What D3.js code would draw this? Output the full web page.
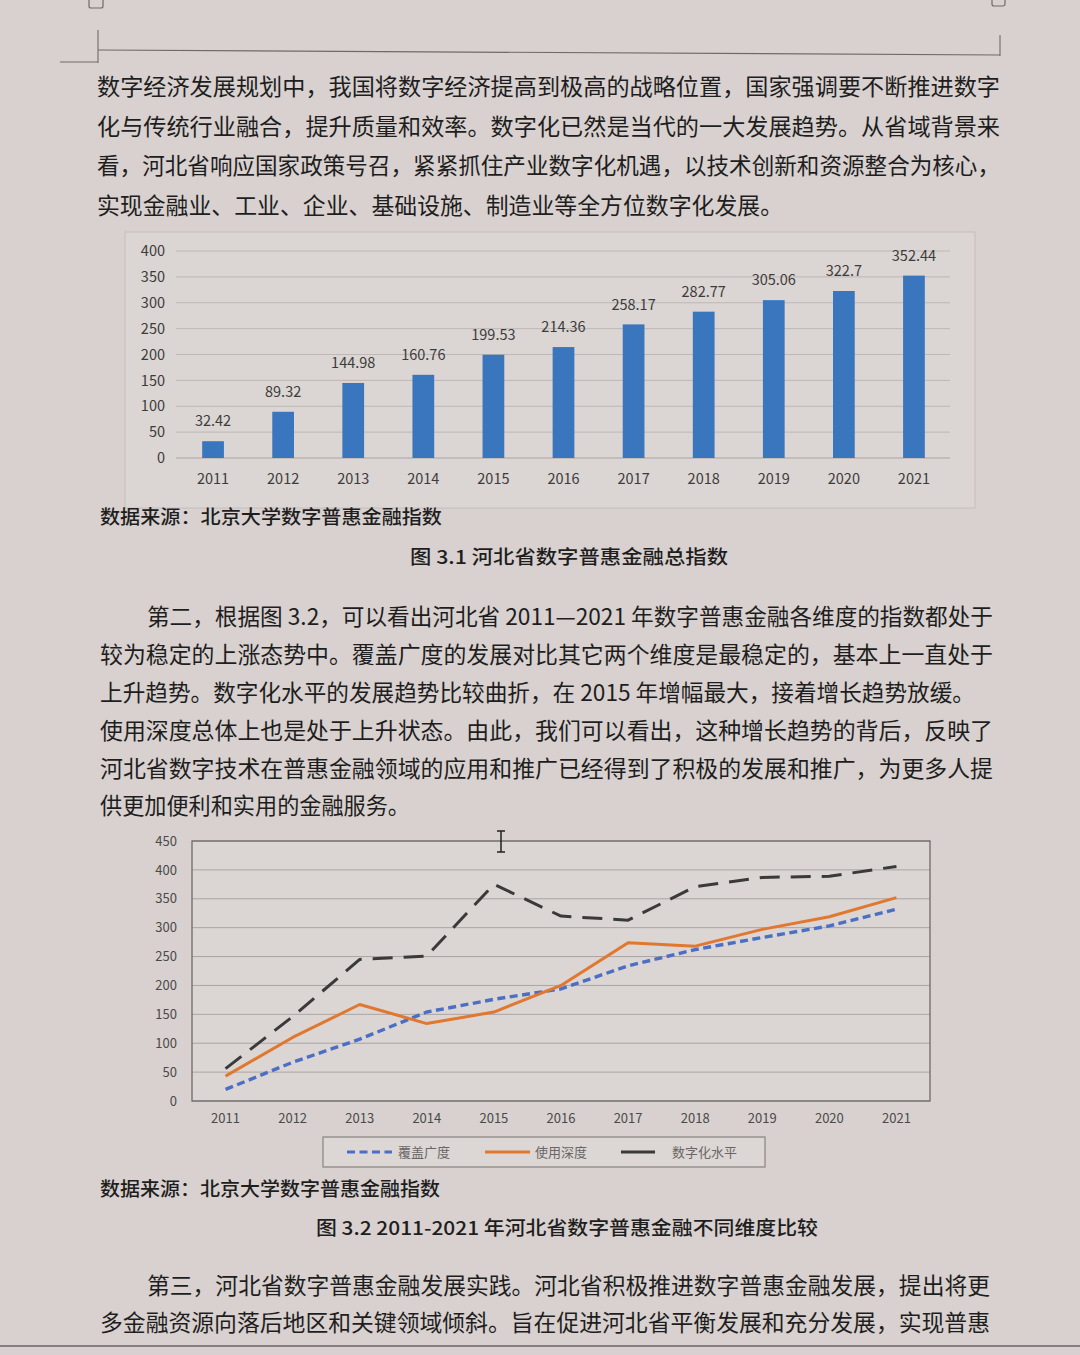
<!DOCTYPE html>
<html><head><meta charset="utf-8">
<script src="https://cdn.jsdelivr.net/npm/d3@7"></script>
<style>html,body{margin:0;padding:0;background:#d9d2d0;}svg{display:block;}</style>
</head><body>
<script>
// ---------- data ----------
const years = ["2011","2012","2013","2014","2015","2016","2017","2018","2019","2020","2021"];
const totalIndex = [32.42, 89.32, 144.98, 160.76, 199.53, 214.36, 258.17, 282.77, 305.06, 322.7, 352.44];
const coverage = [20, 67, 107, 154, 176, 194, 234, 262, 283, 303, 332];
const usage = [43, 110, 167, 134, 154, 200, 274, 268, 297, 319, 352];
const digitization = [56, 146, 245, 251, 375, 320, 313, 371, 387, 389, 406];
const barTicks = [0, 50, 100, 150, 200, 250, 300, 350, 400];
const lineTicks = [0, 50, 100, 150, 200, 250, 300, 350, 400, 450];
const seriesNames = ["覆盖广度", "使用深度", "数字化水平"];

const para1 = [
  "数字经济发展规划中，我国将数字经济提高到极高的战略位置，国家强调要不断推进数字",
  "化与传统行业融合，提升质量和效率。数字化已然是当代的一大发展趋势。从省域背景来",
  "看，河北省响应国家政策号召，紧紧抓住产业数字化机遇，以技术创新和资源整合为核心，",
  "实现金融业、工业、企业、基础设施、制造业等全方位数字化发展。"
];
const para2 = [
  "第二，根据图 3.2，可以看出河北省 2011—2021 年数字普惠金融各维度的指数都处于",
  "较为稳定的上涨态势中。覆盖广度的发展对比其它两个维度是最稳定的，基本上一直处于",
  "上升趋势。数字化水平的发展趋势比较曲折，在 2015 年增幅最大，接着增长趋势放缓。",
  "使用深度总体上也是处于上升状态。由此，我们可以看出，这种增长趋势的背后，反映了",
  "河北省数字技术在普惠金融领域的应用和推广已经得到了积极的发展和推广，为更多人提",
  "供更加便利和实用的金融服务。"
];
const para3 = [
  "第三，河北省数字普惠金融发展实践。河北省积极推进数字普惠金融发展，提出将更",
  "多金融资源向落后地区和关键领域倾斜。旨在促进河北省平衡发展和充分发展，实现普惠"
];
const source = "数据来源：北京大学数字普惠金融指数";
const caption1 = "图 3.1  河北省数字普惠金融总指数";
const caption2 = "图 3.2 2011-2021 年河北省数字普惠金融不同维度比较";

// ---------- page ----------
const W = 1080, H = 1355;
const FONT = "'Noto Sans CJK SC', 'Noto Sans', sans-serif";
const svg = d3.select("body").append("svg").attr("width", W).attr("height", H)
  .style("font-family", FONT);
svg.append("rect").attr("width", W).attr("height", H).attr("fill", "#d8d1cf");

// header rule and crop marks
const markColor = "#6f6a69";
svg.append("line").attr("x1", 98).attr("x2", 1000).attr("y1", 50).attr("y2", 55)
  .attr("stroke", markColor).attr("stroke-width", 1.2);
svg.append("line").attr("x1", 98).attr("x2", 98).attr("y1", 30).attr("y2", 63).attr("stroke", markColor).attr("stroke-width", 1.1);
svg.append("line").attr("x1", 60).attr("x2", 98).attr("y1", 62).attr("y2", 62).attr("stroke", markColor).attr("stroke-width", 1.1);
svg.append("line").attr("x1", 1000).attr("x2", 1000).attr("y1", 35).attr("y2", 56).attr("stroke", markColor).attr("stroke-width", 1.1);
svg.append("rect").attr("x", 89).attr("y", -4).attr("width", 14).attr("height", 12).attr("rx", 2)
  .attr("fill", "none").attr("stroke", markColor).attr("stroke-width", 1.2);
svg.append("rect").attr("x", 992).attr("y", -5).attr("width", 13).attr("height", 11).attr("rx", 2)
  .attr("fill", "none").attr("stroke", markColor).attr("stroke-width", 1.2);
// bottom status bar edge
svg.append("line").attr("x1", 0).attr("x2", W).attr("y1", 1346).attr("y2", 1346)
  .attr("stroke", "#6a6564").attr("stroke-width", 1.5);

function textLine(str, x1, x2, y, size, opts = {}) {
  const t = svg.append("text").attr("x", x1).attr("y", y).attr("dy", "0.36em")
    .attr("font-size", size).attr("fill", opts.fill || "#1e1e1e")
    .attr("font-weight", opts.weight || 400).text(str);
  if (x2 != null) t.attr("textLength", x2 - x1).attr("lengthAdjust", "spacingAndGlyphs");
  return t;
}

// paragraph 1
const p1Pos = [[97, 1000, 87], [97, 1000, 127], [97, 1000, 166], [97, 783, 206]];
para1.forEach((s, i) => textLine(s, p1Pos[i][0], p1Pos[i][1], p1Pos[i][2], 23));

// ---------- bar chart ----------
svg.append("rect").attr("x", 125).attr("y", 232).attr("width", 850).attr("height", 276)
  .attr("fill", "#dbd5d3").attr("stroke", "#c4bebd").attr("stroke-width", 1);

const bx = d3.scaleBand().domain(years).range([178, 949]).paddingInner(0.69).paddingOuter(0.345);
const by = d3.scaleLinear().domain([0, 400]).range([458, 251]);
const bg = svg.append("g");
bg.selectAll("line.grid").data(barTicks).join("line")
  .attr("x1", 176).attr("x2", 950)
  .attr("y1", d => by(d)).attr("y2", d => by(d))
  .attr("stroke", d => d === 0 ? "#a9a3a2" : "#bdb7b6").attr("stroke-width", 1);
const byAxis = d3.axisLeft(by).tickValues(barTicks).tickSize(0).tickPadding(0);
bg.append("g").attr("transform", "translate(165,0)").call(byAxis)
  .call(g => g.select(".domain").remove())
  .call(g => g.selectAll("text").attr("font-size", 14.5).attr("fill", "#3c3c3c").attr("font-family", FONT));
bg.selectAll("rect.bar").data(totalIndex).join("rect")
  .attr("x", (d, i) => bx(years[i])).attr("width", bx.bandwidth())
  .attr("y", d => by(d)).attr("height", d => by(0) - by(d))
  .attr("fill", "#3a76bd");
bg.selectAll("text.val").data(totalIndex).join("text")
  .attr("x", (d, i) => bx(years[i]) + bx.bandwidth() / 2)
  .attr("y", d => by(d) - 20).attr("dy", "0.36em")
  .attr("text-anchor", "middle").attr("font-size", 14.5).attr("fill", "#3c3c3c")
  .text(d => d);
const bxAxis = d3.axisBottom(bx).tickSize(0).tickPadding(0);
bg.append("g").attr("transform", "translate(0,474)").call(bxAxis)
  .call(g => g.select(".domain").remove())
  .call(g => g.selectAll("text").attr("font-size", 14.5).attr("fill", "#3c3c3c").attr("font-family", FONT));

textLine(source, 100, 442, 517, 19, { weight: 500 });
textLine(caption1, 410, 728, 557, 19, { weight: 500 });

// paragraph 2
const p2Pos = [[147, 993, 617], [100, 993, 655], [100, 975, 693], [100, 993, 731], [100, 993, 769], [100, 410, 806]];
para2.forEach((s, i) => textLine(s, p2Pos[i][0], p2Pos[i][1], p2Pos[i][2], 22.5));

// ---------- line chart ----------
const lx = d3.scaleBand().domain(years).range([192, 930]);
const ly = d3.scaleLinear().domain([0, 450]).range([1101, 841]);
const lg = svg.append("g");
lg.append("rect").attr("x", 192).attr("y", 841).attr("width", 738).attr("height", 260)
  .attr("fill", "#dbd5d3");
lg.selectAll("line.grid").data(lineTicks).join("line")
  .attr("x1", 192).attr("x2", 930)
  .attr("y1", d => ly(d)).attr("y2", d => ly(d))
  .attr("stroke", "#aaa4a3").attr("stroke-width", 1);
lg.append("rect").attr("x", 192).attr("y", 841).attr("width", 738).attr("height", 260)
  .attr("fill", "none").attr("stroke", "#6e6a6a").attr("stroke-width", 1.3);
const lyAxis = d3.axisLeft(ly).tickValues(lineTicks).tickSize(0).tickPadding(0);
lg.append("g").attr("transform", "translate(177,0)").call(lyAxis)
  .call(g => g.select(".domain").remove())
  .call(g => g.selectAll("text").attr("font-size", 13).attr("fill", "#4a4a4a").attr("font-family", FONT));
const lxAxis = d3.axisBottom(lx).tickSize(0).tickPadding(0);
lg.append("g").attr("transform", "translate(0,1114)").call(lxAxis)
  .call(g => g.select(".domain").remove())
  .call(g => g.selectAll("text").attr("font-size", 13).attr("fill", "#4a4a4a").attr("font-family", FONT));

const lineGen = d3.line().x((d, i) => lx(years[i]) + lx.bandwidth() / 2).y(d => ly(d));
const styles = [
  { data: coverage, color: "#4a6fc4", dash: "8,4.5", w: 3.4 },
  { data: usage, color: "#e0782f", dash: null, w: 3 },
  { data: digitization, color: "#3a3a3a", dash: "20,11", w: 3 }
];
styles.forEach(s => {
  lg.append("path").datum(s.data).attr("d", lineGen).attr("fill", "none")
    .attr("stroke", s.color).attr("stroke-width", s.w)
    .attr("stroke-dasharray", s.dash).attr("stroke-linejoin", "round");
});

// I-beam cursor
lg.append("path").attr("d", "M497,831 h8 M501,831 v21 M497,852 h8")
  .attr("stroke", "#222").attr("stroke-width", 1.5).attr("fill", "none");

// legend
const leg = svg.append("g");
leg.append("rect").attr("x", 323).attr("y", 1137).attr("width", 442).attr("height", 30)
  .attr("fill", "#dcd6d4").attr("stroke", "#8e8988").attr("stroke-width", 1.3);
const legItems = [
  { x1: 347, x2: 392, tx: 398 },
  { x1: 485, x2: 530, tx: 535 },
  { x1: 621, x2: 655, tx: 672 }
];
legItems.forEach((it, i) => {
  leg.append("line").attr("x1", it.x1).attr("x2", it.x2).attr("y1", 1152).attr("y2", 1152)
    .attr("stroke", styles[i].color).attr("stroke-width", 3.2)
    .attr("stroke-dasharray", i === 0 ? "8,4.5" : null);
  leg.append("text").attr("x", it.tx).attr("y", 1152).attr("dy", "0.36em")
    .attr("font-size", 13).attr("fill", "#6a6666").text(seriesNames[i]);
});

textLine(source, 100, 440, 1189, 19, { weight: 500 });
textLine(caption2, 316, 818, 1228, 19, { weight: 500 });

// paragraph 3
const p3Pos = [[147, 990, 1286], [100, 990, 1323]];
para3.forEach((s, i) => textLine(s, p3Pos[i][0], p3Pos[i][1], p3Pos[i][2], 22.5));
</script>
</body></html>
